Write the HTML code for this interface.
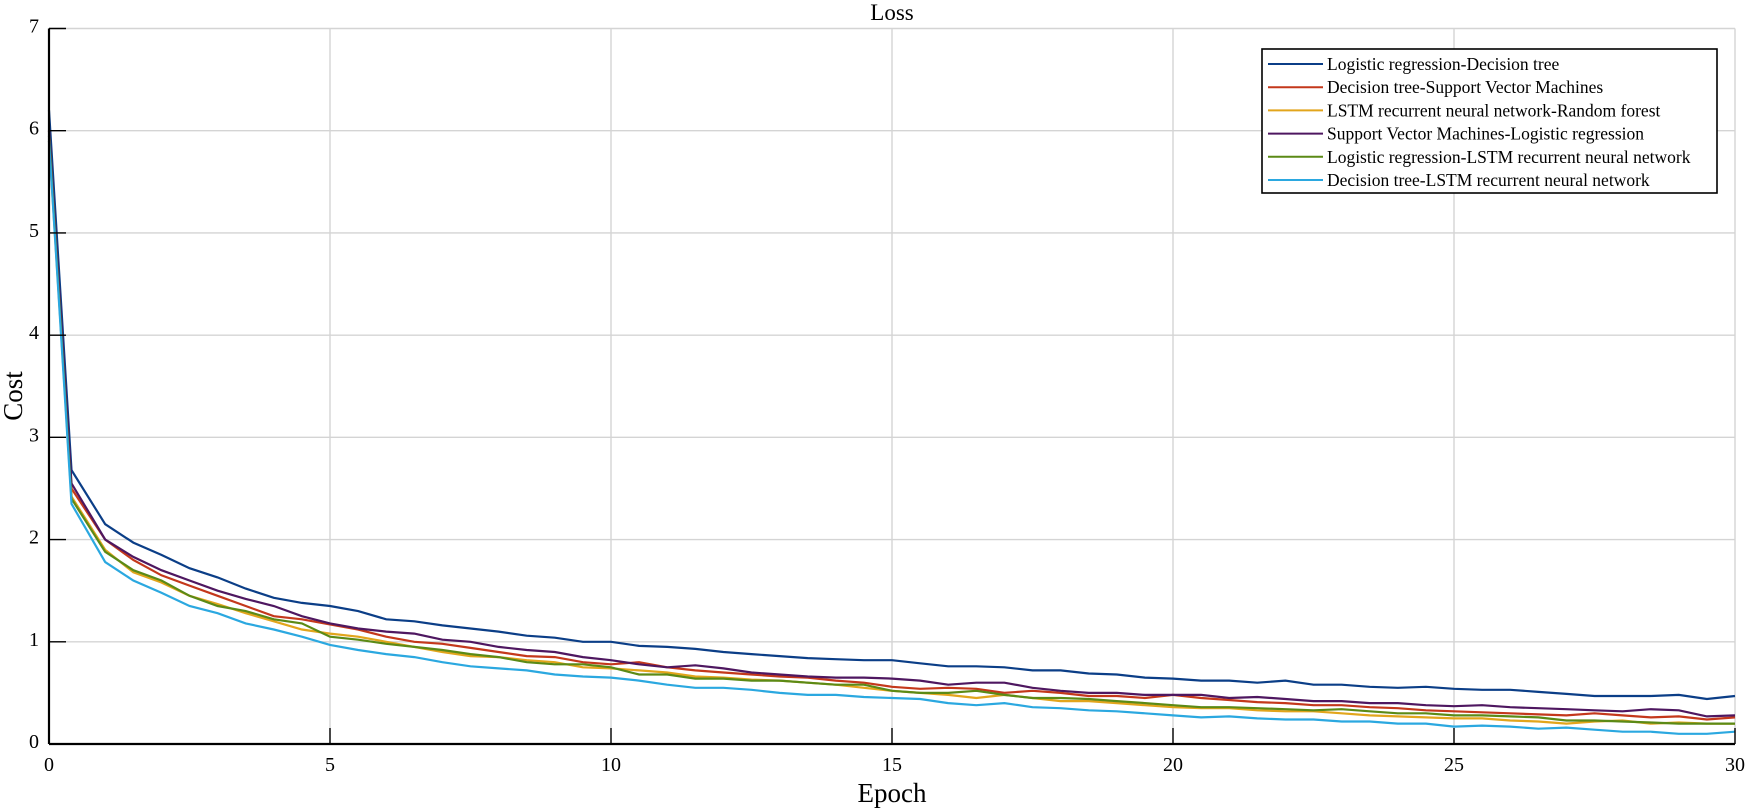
<!DOCTYPE html>
<html><head><meta charset="utf-8"><style>
body{margin:0;background:#fff}
svg{display:block;font-family:"Liberation Serif",serif}
</style></head><body>
<svg id="chart" width="1750" height="808" viewBox="0 0 1750 808" xmlns="http://www.w3.org/2000/svg">
<text x="892" y="20" font-size="23" text-anchor="middle">Loss</text>
<g id="grid"></g>
<g id="lines"></g>
<g id="axes"></g>
<text x="892" y="802" font-size="27" text-anchor="middle">Epoch</text>
<text transform="translate(22,396) rotate(-90)" font-size="27" text-anchor="middle">Cost</text>
<g id="legend"></g>
</svg>
<script>
const xTicks=[0,5,10,15,20,25,30];
const yTicks=[0,1,2,3,4,5,6,7];
const seriesNames=["Logistic regression-Decision tree","Decision tree-Support Vector Machines","LSTM recurrent neural network-Random forest","Support Vector Machines-Logistic regression","Logistic regression-LSTM recurrent neural network","Decision tree-LSTM recurrent neural network"];
const seriesColors=["#0b3e87","#c4381b","#e2a51c","#4e1760","#5b8a16","#2ba8e0"];
const epochs=[0,0.4,1,1.5,2,2.5,3,3.5,4,4.5,5,5.5,6,6.5,7,7.5,8,8.5,9,9.5,10,10.5,11,11.5,12,12.5,13,13.5,14,14.5,15,15.5,16,16.5,17,17.5,18,18.5,19,19.5,20,20.5,21,21.5,22,22.5,23,23.5,24,24.5,25,25.5,26,26.5,27,27.5,28,28.5,29,29.5,30];
const lrDt=[6.2,2.68,2.15,1.97,1.85,1.72,1.63,1.52,1.43,1.38,1.35,1.3,1.22,1.2,1.16,1.13,1.1,1.06,1.04,1.0,1.0,0.96,0.95,0.93,0.9,0.88,0.86,0.84,0.83,0.82,0.82,0.79,0.76,0.76,0.75,0.72,0.72,0.69,0.68,0.65,0.64,0.62,0.62,0.6,0.62,0.58,0.58,0.56,0.55,0.56,0.54,0.53,0.53,0.51,0.49,0.47,0.47,0.47,0.48,0.44,0.47];
const dtSvm=[6.0,2.5,2.0,1.8,1.65,1.55,1.45,1.35,1.25,1.22,1.17,1.12,1.05,1.0,0.98,0.94,0.9,0.86,0.85,0.8,0.78,0.8,0.75,0.72,0.7,0.68,0.66,0.65,0.62,0.6,0.56,0.54,0.55,0.54,0.5,0.52,0.5,0.47,0.47,0.45,0.48,0.45,0.43,0.41,0.4,0.38,0.38,0.36,0.35,0.33,0.32,0.31,0.3,0.29,0.28,0.3,0.28,0.26,0.27,0.24,0.26];
const lstmRf=[5.9,2.42,1.9,1.68,1.58,1.45,1.37,1.28,1.2,1.12,1.08,1.05,1.0,0.95,0.9,0.86,0.85,0.82,0.8,0.75,0.74,0.72,0.7,0.66,0.65,0.63,0.62,0.6,0.58,0.55,0.52,0.5,0.48,0.45,0.48,0.45,0.42,0.42,0.4,0.38,0.36,0.35,0.35,0.33,0.32,0.32,0.3,0.28,0.27,0.26,0.25,0.25,0.23,0.22,0.2,0.22,0.23,0.2,0.21,0.2,0.2];
const svmLr=[6.0,2.55,2.0,1.83,1.7,1.6,1.5,1.42,1.35,1.25,1.18,1.13,1.1,1.08,1.02,1.0,0.95,0.92,0.9,0.85,0.82,0.78,0.75,0.77,0.74,0.7,0.68,0.66,0.65,0.65,0.64,0.62,0.58,0.6,0.6,0.55,0.52,0.5,0.5,0.48,0.48,0.48,0.45,0.46,0.44,0.42,0.42,0.4,0.4,0.38,0.37,0.38,0.36,0.35,0.34,0.33,0.32,0.34,0.33,0.27,0.28];
const lrLstm=[5.95,2.4,1.88,1.7,1.6,1.45,1.35,1.3,1.22,1.18,1.05,1.02,0.98,0.95,0.92,0.88,0.85,0.8,0.78,0.78,0.75,0.68,0.68,0.64,0.64,0.62,0.62,0.6,0.58,0.58,0.52,0.5,0.5,0.52,0.48,0.45,0.45,0.44,0.42,0.4,0.38,0.36,0.36,0.35,0.34,0.33,0.34,0.32,0.3,0.3,0.28,0.28,0.27,0.26,0.23,0.23,0.22,0.21,0.2,0.2,0.2];
const dtLstm=[5.9,2.35,1.78,1.6,1.48,1.35,1.28,1.18,1.12,1.05,0.97,0.92,0.88,0.85,0.8,0.76,0.74,0.72,0.68,0.66,0.65,0.62,0.58,0.55,0.55,0.53,0.5,0.48,0.48,0.46,0.45,0.44,0.4,0.38,0.4,0.36,0.35,0.33,0.32,0.3,0.28,0.26,0.27,0.25,0.24,0.24,0.22,0.22,0.2,0.2,0.17,0.18,0.17,0.15,0.16,0.14,0.12,0.12,0.1,0.1,0.12];
const seriesValues=[lrDt,dtSvm,lstmRf,svmLr,lrLstm,dtLstm];

const NS="http://www.w3.org/2000/svg";
const L=49,R=1735,T=28.5,B=744,xMax=30,yMax=7;
const sx=v=>L+(R-L)*v/xMax, sy=v=>B-(B-T)*v/yMax;
function mk(tag,attrs,parent){const e=document.createElementNS(NS,tag);for(const k in attrs)e.setAttribute(k,attrs[k]);parent.appendChild(e);return e;}
const grid=document.getElementById('grid'),axes=document.getElementById('axes'),lines=document.getElementById('lines'),legend=document.getElementById('legend');
xTicks.forEach(t=>{
  const g=mk('line',{x1:sx(t),x2:sx(t),y1:T,y2:B,stroke:'#d4d4d4','stroke-width':1.4},grid);
  
  
  const tk=mk('line',{x1:sx(t),x2:sx(t),y1:B,y2:B-16,stroke:'#000','stroke-width':1.4},axes);
  
  
  const tx=mk('text',{x:sx(t),y:B+27,'font-size':20,'text-anchor':'middle'},axes);tx.textContent=t;
  
  
});
yTicks.forEach(t=>{
  const g=mk('line',{x1:L,x2:R,y1:sy(t),y2:sy(t),stroke:'#d4d4d4','stroke-width':1.4},grid);
  
  
  const tk=mk('line',{x1:L,x2:L+17,y1:sy(t),y2:sy(t),stroke:'#000','stroke-width':1.4},axes);
  
  
  const tx=mk('text',{x:L-10,y:sy(t)+4,'font-size':20,'text-anchor':'end'},axes);tx.textContent=t;
  
  
});
const ax=mk('line',{x1:L,x2:L,y1:T,y2:B,stroke:'#000','stroke-width':2.2},axes);


const bx=mk('line',{x1:L,x2:R,y1:B,y2:B,stroke:'#000','stroke-width':2.2},axes);


seriesValues.forEach((vals,i)=>{
  const n=Math.min(vals.length,epochs.length);
  let d='';for(let j=0;j<n;j++)d+=(j?'L':'M')+sx(epochs[j]).toFixed(1)+','+sy(vals[j]).toFixed(1);
  const p=mk('path',{d:d,fill:'none',stroke:seriesColors[i],'stroke-width':2.2},lines);
  
  
});
const box=mk('rect',{x:1262,y:49,width:455,height:144,fill:'#fff',stroke:'#000','stroke-width':1.6},legend);


seriesNames.forEach((nm,i)=>{
  const y=64+i*23.2;
  const ln=mk('line',{x1:1268,x2:1323,y1:y,y2:y,stroke:seriesColors[i],'stroke-width':2},legend);
  
  
  const t=mk('text',{x:1327,y:y+6,'font-size':17.5},legend);t.textContent=nm;
  
  
});
</script>
</body></html>
